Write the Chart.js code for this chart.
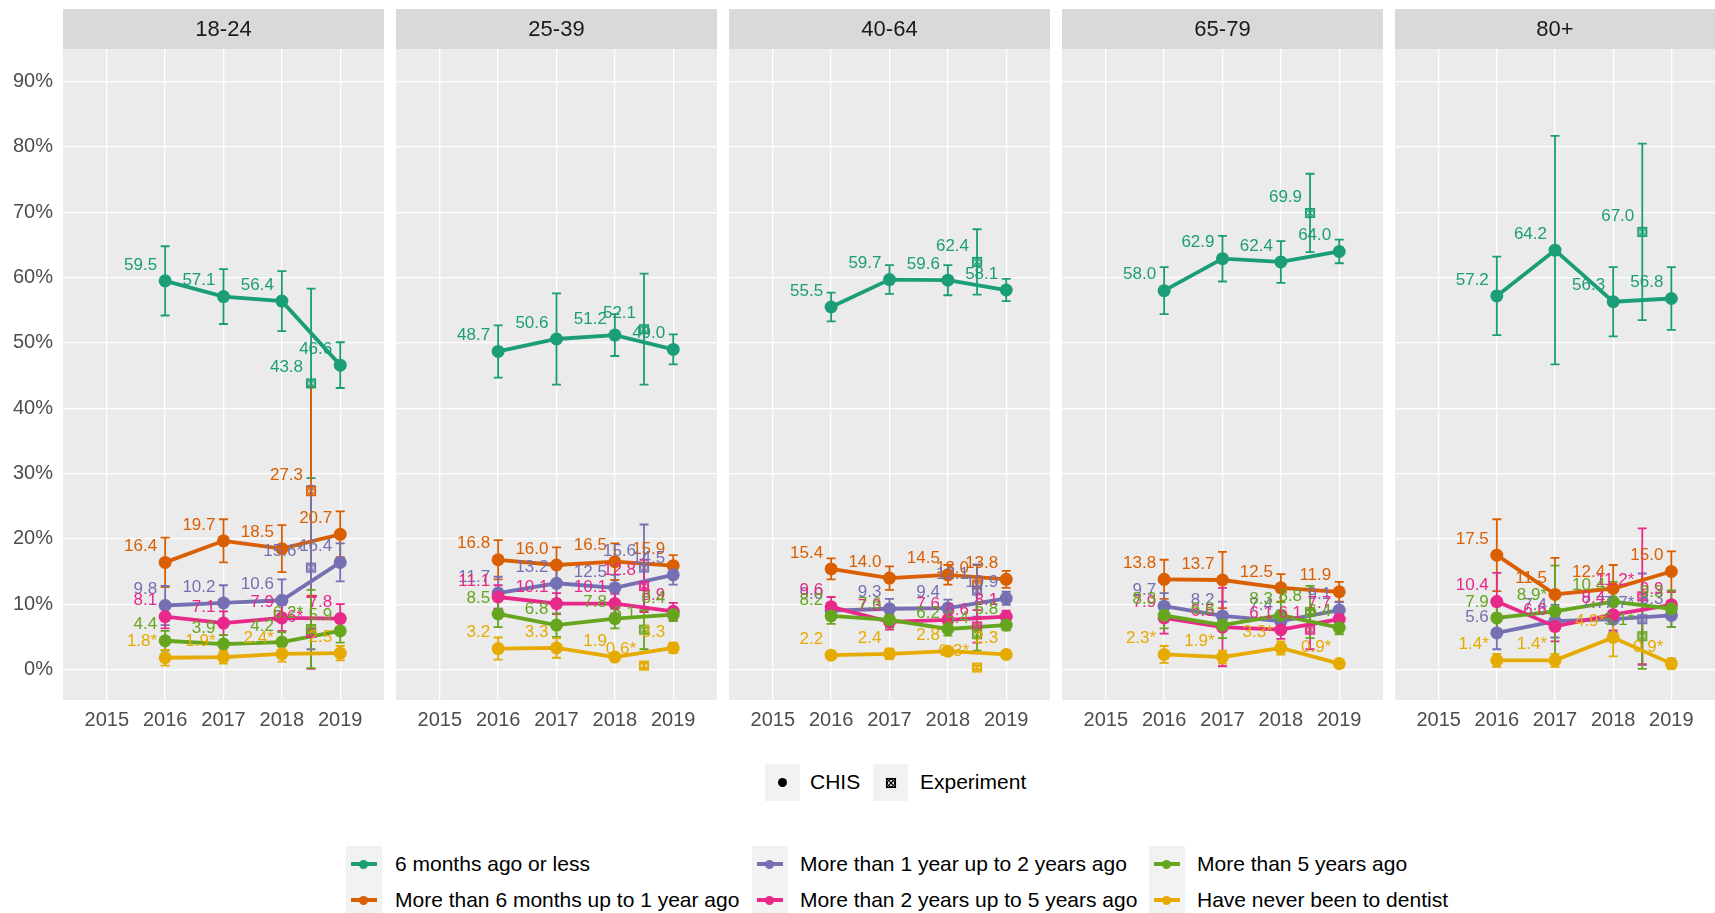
<!DOCTYPE html>
<html>
<head>
<meta charset="utf-8">
<script src="https://cdn.jsdelivr.net/npm/chart.js@4.4.1/dist/chart.umd.min.js"></script>
<style>
body { margin: 0; background: #fff; width: 1715px; height: 913px; position: relative; overflow: hidden; font-family: "Liberation Sans", Arial, sans-serif; }
canvas { position: absolute; top: 0; }
.key { position: absolute; background: #f2f2f2; }
.txt { position: absolute; font-size: 21px; color: #000; line-height: 24px; white-space: nowrap; }
</style>
</head>
<body>
<script>
var panels = ['18-24', '25-39', '40-64', '65-79', '80+'];
var years = [2016, 2017, 2018, 2019];
var expYear = 2018.5;
var xTicks = [2015, 2016, 2017, 2018, 2019];
var yTicks = [0, 10, 20, 30, 40, 50, 60, 70, 80, 90];

var categories = ['6 months ago or less', 'More than 6 months up to 1 year ago',
	'More than 1 year up to 2 years ago', 'More than 2 years up to 5 years ago',
	'More than 5 years ago', 'Have never been to dentist'];
var colours = ['#1B9E77', '#D95F02', '#7570B3', '#E7298A', '#66A61E', '#E6AB02'];

// CHIS estimates (%), one row per age panel, one value per year
var sixMonths = [[59.5, 57.1, 56.4, 46.6], [48.7, 50.6, 51.2, 49.0], [55.5, 59.7, 59.6, 58.1], [58.0, 62.9, 62.4, 64.0], [57.2, 64.2, 56.3, 56.8]];
var upToOneYear = [[16.4, 19.7, 18.5, 20.7], [16.8, 16.0, 16.5, 15.9], [15.4, 14.0, 14.5, 13.8], [13.8, 13.7, 12.5, 11.9], [17.5, 11.5, 12.4, 15.0]];
var upToTwoYears = [[9.8, 10.2, 10.6, 16.4], [11.7, 13.2, 12.5, 14.5], [9.0, 9.3, 9.4, 10.9], [9.7, 8.2, 7.4, 9.1], [5.6, 7.4, 7.7, 8.3]];
var upToFiveYears = [[8.1, 7.1, 7.9, 7.8], [11.1, 10.1, 10.1, 8.9], [9.6, 7.3, 7.6, 8.1], [7.9, 6.5, 6.1, 7.7], [10.4, 6.6, 8.4, 9.9]];
var overFiveYears = [[4.4, 3.9, 4.2, 5.9], [8.5, 6.8, 7.8, 8.4], [8.2, 7.6, 6.2, 6.8], [8.3, 6.8, 8.3, 6.4], [7.9, 8.9, 10.4, 9.3]];
var neverDentist = [[1.8, 1.9, 2.4, 2.5], [3.2, 3.3, 1.9, 3.3], [2.2, 2.4, 2.8, 2.3], [2.3, 1.9, 3.3, 0.9], [1.4, 1.4, 4.9, 0.9]];

// half width of the confidence intervals
var sixMonthsErr = [[5.3, 4.2, 4.6, 3.5], [4.0, 7.0, 3.2, 2.3], [2.2, 2.2, 2.3, 1.7], [3.6, 3.5, 3.2, 1.8], [6.0, 17.5, 5.3, 4.8]];
var upToOneYearErr = [[3.8, 3.3, 3.6, 3.5], [3.0, 2.7, 2.8, 1.6], [1.6, 1.8, 1.5, 1.3], [3.0, 4.3, 2.1, 1.5], [5.5, 5.6, 3.6, 3.1]];
var upToTwoYearsErr = [[3.0, 2.7, 3.2, 2.9], [2.5, 2.5, 2.0, 1.5], [1.2, 1.5, 1.3, 1.0], [2.0, 2.2, 1.6, 1.2], [2.5, 2.5, 2.0, 1.8]];
var upToFiveYearsErr = [[1.8, 1.8, 2.0, 2.2], [1.8, 1.6, 1.5, 1.3], [1.5, 1.2, 1.0, 0.9], [2.4, 6.0, 1.4, 1.5], [4.4, 2.3, 2.4, 2.0]];
var overFiveYearsErr = [[1.5, 1.4, 1.5, 1.8], [2.0, 1.8, 1.5, 1.0], [1.2, 1.2, 1.0, 0.8], [2.0, 2.0, 2.0, 1.0], [2.5, 7.0, 3.0, 2.8]];
var neverDentistErr = [[1.2, 1.0, 1.2, 1.1], [1.7, 1.5, 0.5, 0.8], [0.5, 0.8, 0.6, 0.4], [1.3, 1.0, 1.0, 0.3], [1.0, 1.0, 2.9, 0.8]];

// Experiment estimates, one row per panel, one value per category
var expValues = [
	[43.8, 27.3, 15.6, 5.6, 6.2, null],
	[52.1, null, 15.6, 12.8, 6.1, 0.6],
	[62.4, 13.0, 12.1, 6.6, 5.4, 0.3],
	[69.9, null, null, 6.1, 8.8, null],
	[67.0, null, 7.7, 11.2, 5.1, null]
];
var expErrors = [
	[14.5, 16.0, 12.5, 5.5, 6.0, null],
	[8.5, null, 6.6, 4.0, 3.0, 0.4],
	[5.0, 3.0, 4.0, 2.5, 2.5, 0.3],
	[6.0, null, null, 3.0, 4.0, null],
	[13.5, null, 7.0, 10.4, 5.0, null]
];

// labels flagged with * ("category-yearIndex" for CHIS, category index for experiment)
var chisStars = [['5-0', '5-1', '5-2'], [], [], ['5-0', '5-1', '5-2', '5-3'], ['5-0', '5-1', '5-2', '5-3', '4-1']];
var expStars = [[2, 3, 4], [5], [5], [], [2, 3, 4]];

var chisValues = [sixMonths, upToOneYear, upToTwoYears, upToFiveYears, overFiveYears, neverDentist];
var chisErrors = [sixMonthsErr, upToOneYearErr, upToTwoYearsErr, upToFiveYearsErr, overFiveYearsErr, neverDentistErr];

var panelLeft = [63, 396, 729, 1062, 1395];
var panelWidth = 321;
var FONT = '"Liberation Sans", Arial, sans-serif';

function expMarker(colour)
{
	var c = document.createElement('canvas');
	c.width = 12; c.height = 12;
	var g = c.getContext('2d');
	g.strokeStyle = colour;
	g.lineWidth = 1.1;
	g.strokeRect(1.5, 1.5, 9, 9);
	g.beginPath();
	g.moveTo(1.5, 1.5); g.lineTo(10.5, 10.5);
	g.moveTo(10.5, 1.5); g.lineTo(1.5, 10.5);
	g.stroke();
	g.beginPath();
	g.arc(6, 6, 3.6, 0, 2 * Math.PI);
	g.stroke();
	return c;
}

// panel background and facet strip
var panelBox = {
	id: 'panelBox',
	beforeDraw: function (chart)
	{
		var a = chart.chartArea, ctx = chart.ctx;
		ctx.save();
		ctx.fillStyle = '#EBEBEB';
		ctx.fillRect(a.left, a.top, a.right - a.left, a.bottom - a.top);
		ctx.fillStyle = '#D9D9D9';
		ctx.fillRect(a.left, a.top - 40, a.right - a.left, 40);
		ctx.fillStyle = '#1A1A1A';
		ctx.font = '22px ' + FONT;
		ctx.textAlign = 'center';
		ctx.textBaseline = 'middle';
		ctx.fillText(chart.options.stripTitle, (a.left + a.right) / 2, a.top - 19);
		ctx.restore();
	}
};

// vertical confidence interval bars, under the lines
var errorBars = {
	id: 'errorBars',
	beforeDatasetsDraw: function (chart)
	{
		var ctx = chart.ctx, xs = chart.scales.x, ys = chart.scales.y;
		ctx.save();
		ctx.lineWidth = 1.8;
		chart.data.datasets.forEach(function (ds)
		{
			ctx.strokeStyle = ds.borderColor;
			ds.data.forEach(function (pt, i)
			{
				var e = ds.err[i];
				if (e == null) return;
				var px = xs.getPixelForValue(pt.x);
				var top = ys.getPixelForValue(pt.y + e);
				var bot = ys.getPixelForValue(pt.y - e);
				ctx.beginPath();
				ctx.moveTo(px, top); ctx.lineTo(px, bot);
				ctx.moveTo(px - 4.5, top); ctx.lineTo(px + 4.5, top);
				ctx.moveTo(px - 4.5, bot); ctx.lineTo(px + 4.5, bot);
				ctx.stroke();
			});
		});
		ctx.restore();
	}
};

// value labels above-left of each point
var valueLabels = {
	id: 'valueLabels',
	afterDatasetsDraw: function (chart)
	{
		var ctx = chart.ctx, xs = chart.scales.x, ys = chart.scales.y;
		ctx.save();
		ctx.font = '17px ' + FONT;
		ctx.textAlign = 'right';
		ctx.textBaseline = 'middle';
		chart.data.datasets.forEach(function (ds)
		{
			ctx.fillStyle = ds.borderColor;
			ds.data.forEach(function (pt, i)
			{
				var txt = pt.y.toFixed(1) + (ds.stars[i] ? '*' : '');
				ctx.fillText(txt, xs.getPixelForValue(pt.x) - 8, ys.getPixelForValue(pt.y) - 16);
			});
		});
		ctx.restore();
	}
};

function makeChart(p)
{
	var first = p === 0;
	var canvas = document.createElement('canvas');
	var width = first ? panelLeft[0] + panelWidth : (p === 4 ? 320 : panelWidth);
	canvas.width = width;
	canvas.height = 745;
	canvas.style.left = (first ? 0 : panelLeft[p]) + 'px';
	document.body.appendChild(canvas);

	var datasets = [];
	categories.forEach(function (name, c)
	{
		datasets.push({
			type: 'line',
			label: name,
			data: years.map(function (yr, i) { return { x: yr, y: chisValues[c][p][i] }; }),
			err: chisErrors[c][p],
			stars: years.map(function (yr, i) { return chisStars[p].indexOf(c + '-' + i) >= 0; }),
			borderColor: colours[c],
			backgroundColor: colours[c],
			borderWidth: 3.8,
			pointRadius: 6.5,
			pointHoverRadius: 6.5,
			pointBorderWidth: 0,
			order: 12 - c
		});
		if (expValues[p][c] != null)
		{
			datasets.push({
				type: 'scatter',
				label: name + ' (Experiment)',
				data: [{ x: expYear, y: expValues[p][c] }],
				err: [expErrors[p][c]],
				stars: [expStars[p].indexOf(c) >= 0],
				borderColor: colours[c],
				backgroundColor: colours[c],
				pointStyle: expMarker(colours[c]),
				order: 6 - c
			});
		}
	});

	new Chart(canvas, {
		data: { datasets: datasets },
		plugins: [panelBox, errorBars, valueLabels],
		options: {
			stripTitle: panels[p],
			responsive: false,
			animation: false,
			layout: { autoPadding: false, padding: { top: 49, left: 0, right: 0, bottom: 0 } },
			plugins: { legend: { display: false }, tooltip: { enabled: false } },
			scales: {
				x: {
					type: 'linear',
					min: 2014.25,
					max: 2019.75,
					afterBuildTicks: function (s) { s.ticks = xTicks.map(function (v) { return { value: v }; }); },
					afterFit: function (s) { s.height = 45; },
					grid: { color: '#FFFFFF', lineWidth: 1.3, drawTicks: false },
					border: { display: false },
					ticks: {
						autoSkip: false, maxRotation: 0, padding: 8,
						color: '#4D4D4D', font: { family: FONT, size: 20 },
						callback: function (v) { return String(v); }
					}
				},
				y: {
					type: 'linear',
					min: -4.67,
					max: 95,
					afterBuildTicks: function (s) { s.ticks = yTicks.map(function (v) { return { value: v }; }); },
					afterFit: function (s) { s.width = first ? panelLeft[0] : 0; },
					grid: { color: '#FFFFFF', lineWidth: 1.3, drawTicks: false },
					border: { display: false },
					ticks: {
						display: first, padding: 10,
						color: '#4D4D4D', font: { family: FONT, size: 20 },
						callback: function (v) { return v + '%'; }
					}
				}
			}
		}
	});
}

for (var p = 0; p < panels.length; p++)
	makeChart(p);

// legends
function addKey(left, top, w, h)
{
	var d = document.createElement('div');
	d.className = 'key';
	d.style.left = left + 'px'; d.style.top = top + 'px';
	d.style.width = w + 'px'; d.style.height = h + 'px';
	document.body.appendChild(d);
	return d;
}
function addText(text, left, centre)
{
	var t = document.createElement('div');
	t.className = 'txt';
	t.textContent = text;
	t.style.left = left + 'px';
	t.style.top = (centre - 12) + 'px';
	document.body.appendChild(t);
}

var chisKey = addKey(765, 764, 35, 37);
chisKey.innerHTML = '<div style="position:absolute;left:13px;top:14px;width:9px;height:9px;border-radius:50%;background:#000"></div>';
addText('CHIS', 810, 782);
var expKey = addKey(873, 764, 35, 37);
var em = expMarker('#000');
em.style.position = 'absolute'; em.style.left = '12px'; em.style.top = '13px';
expKey.appendChild(em);
addText('Experiment', 920, 782);

var colKeyLeft = [346, 752, 1149];
var colTextLeft = [395, 800, 1197];
var rowCentre = [864, 900];
categories.forEach(function (name, c)
{
	var col = Math.floor(c / 2), row = c % 2;
	var k = addKey(colKeyLeft[col], rowCentre[row] - 18, 36, 36);
	k.innerHTML = '<div style="position:absolute;left:5px;top:16px;width:26px;height:3.5px;background:' + colours[c] + '"></div>' +
		'<div style="position:absolute;left:13px;top:13.5px;width:9px;height:9px;border-radius:50%;background:' + colours[c] + '"></div>';
	addText(name, colTextLeft[col], rowCentre[row]);
});
</script>
</body>
</html>
